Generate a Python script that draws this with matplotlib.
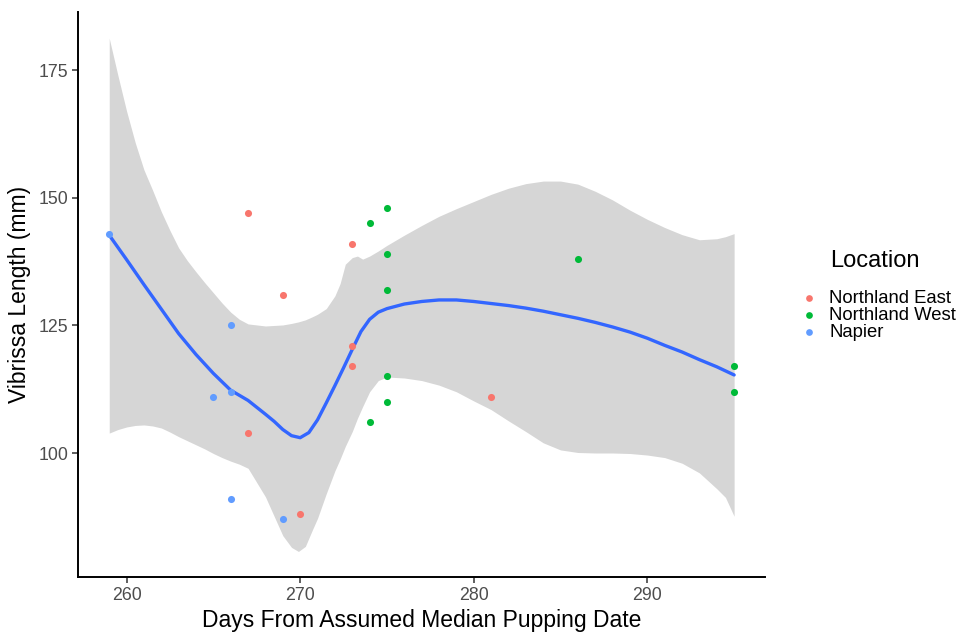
import numpy as np
import matplotlib.pyplot as plt

plt.rcParams['font.family'] = ['Liberation Sans', 'DejaVu Sans']

# Measured vibrissa lengths by location
east_days = [267, 273, 269, 273, 267, 270, 281, 273]
east_len = [147, 141, 131, 117, 104, 88, 111, 121]

west_days = [275, 274, 275, 275, 275, 275, 274, 286, 295, 295]
west_len = [148, 145, 139, 132, 115, 110, 106, 138, 117, 112]

napier_days = [259, 266, 265, 266, 266, 269]
napier_len = [143, 125, 111, 112, 91, 87]

# Loess fit and its confidence band
fit_days = [259, 260, 261, 262, 263, 264, 265, 266, 267, 268, 268.5, 269, 269.5,
            270, 270.5, 271, 271.5, 272, 272.5, 273, 273.5, 274, 274.5, 275,
            276, 277, 278, 279, 280, 281, 282, 283, 284, 285, 286, 287, 288,
            289, 290, 291, 292, 293, 294, 295]
fit_len = [142.7, 137.9, 133.0, 128.2, 123.4, 119.3, 115.6, 112.3, 110.3, 107.6,
           106.2, 104.6, 103.4, 103.0, 104.0, 106.5, 109.8, 113.2, 116.7, 120.3,
           123.8, 126.2, 127.6, 128.3, 129.2, 129.7, 130.0, 130.0, 129.7, 129.3,
           128.9, 128.4, 127.8, 127.1, 126.4, 125.6, 124.7, 123.7, 122.5, 121.1,
           119.8, 118.3, 116.9, 115.3]

band_days = [259, 259.5, 260, 260.5, 261, 261.5, 262, 262.5, 263, 263.5, 264,
             264.5, 265, 265.5, 266, 266.5, 267, 268, 269, 269.5, 269.9, 270.3,
             270.7, 271, 271.5, 272, 272.3, 272.6, 273, 273.3, 273.6, 274, 274.5,
             275, 276, 277, 278, 279, 280, 281, 282, 283, 284, 285, 286, 287,
             288, 289, 290, 291, 292, 293, 294, 294.5, 295]
band_hi = [181.3, 174.0, 167.0, 160.8, 155.5, 151.5, 147.3, 143.6, 140.2, 137.7,
           135.5, 133.4, 131.4, 129.4, 127.6, 126.2, 125.3, 124.9, 125.1, 125.4,
           125.7, 126.1, 126.7, 127.2, 128.3, 130.8, 133.2, 137.0, 138.3, 138.6,
           138.0, 138.6, 139.6, 140.7, 142.7, 144.6, 146.4, 147.9, 149.3, 150.7,
           151.9, 152.8, 153.3, 153.3, 152.7, 151.3, 149.6, 147.6, 145.8, 144.2,
           142.8, 141.8, 142.0, 142.4, 143.0]
band_lo = [103.9, 104.6, 105.1, 105.4, 105.5, 105.3, 104.9, 104.1, 103.2, 102.4,
           101.6, 100.8, 99.9, 99.1, 98.4, 97.8, 97.0, 91.4, 83.8, 81.5, 80.7,
           81.7, 84.9, 87.2, 92.0, 96.5, 98.8, 101.3, 104.2, 106.8, 109.1, 112.0,
           114.2, 114.9, 114.7, 114.2, 113.3, 112.0, 110.2, 108.5, 106.3, 104.2,
           102.0, 100.6, 100.1, 100.0, 100.0, 99.9, 99.6, 99.1, 98.0, 96.1, 93.0,
           91.3, 87.6]

fig = plt.figure(figsize=(9.6, 6.36), dpi=100)
ax = fig.add_axes([0.08125, 0.0928, 0.716, 0.888])

ax.fill_between(band_days, band_lo, band_hi, color='#999999', alpha=0.4,
                linewidth=0, zorder=2)
ax.plot(fit_days, fit_len, color='#3366FF', linewidth=2.4, zorder=3,
        solid_joinstyle='round', solid_capstyle='round')

ax.scatter(east_days, east_len, s=26, color='#F8766D', label='Northland East',
           linewidths=0, zorder=4)
ax.scatter(west_days, west_len, s=26, color='#00BA38', label='Northland West',
           linewidths=0, zorder=4)
ax.scatter(napier_days, napier_len, s=26, color='#619CFF', label='Napier',
           linewidths=0, zorder=4)

ax.set_xlim(257.2, 296.8)
ax.set_ylim(75.7, 186.4)
ax.set_xticks([260, 270, 280, 290])
ax.set_yticks([100, 125, 150, 175])

for side in ['top', 'right']:
    ax.spines[side].set_visible(False)
for side in ['left', 'bottom']:
    ax.spines[side].set_linewidth(1.4)
    ax.spines[side].set_color('black')

ax.tick_params(axis='both', length=4, width=1.1, color='#333333',
               labelcolor='#4D4D4D', labelsize=12.8, pad=3)

ax.set_xlabel('Days From Assumed Median Pupping Date', fontsize=16.5, labelpad=4)
ax.set_ylabel('Vibrissa Length (mm)', fontsize=16.5, labelpad=5)

# Legend title set apart from the keys, as ggplot spaces it
fig.text(0.8645, 1 - 261 / 636, 'Location', fontsize=17, ha='left', va='center')
fig.legend(loc='upper left', bbox_to_anchor=(0.833, 1 - 290 / 636),
           frameon=False, fontsize=13.3, labelspacing=0.0, handletextpad=0.6,
           borderpad=0, borderaxespad=0, handlelength=1.0, markerscale=0.95)

fig.savefig('out.png', dpi=100)
